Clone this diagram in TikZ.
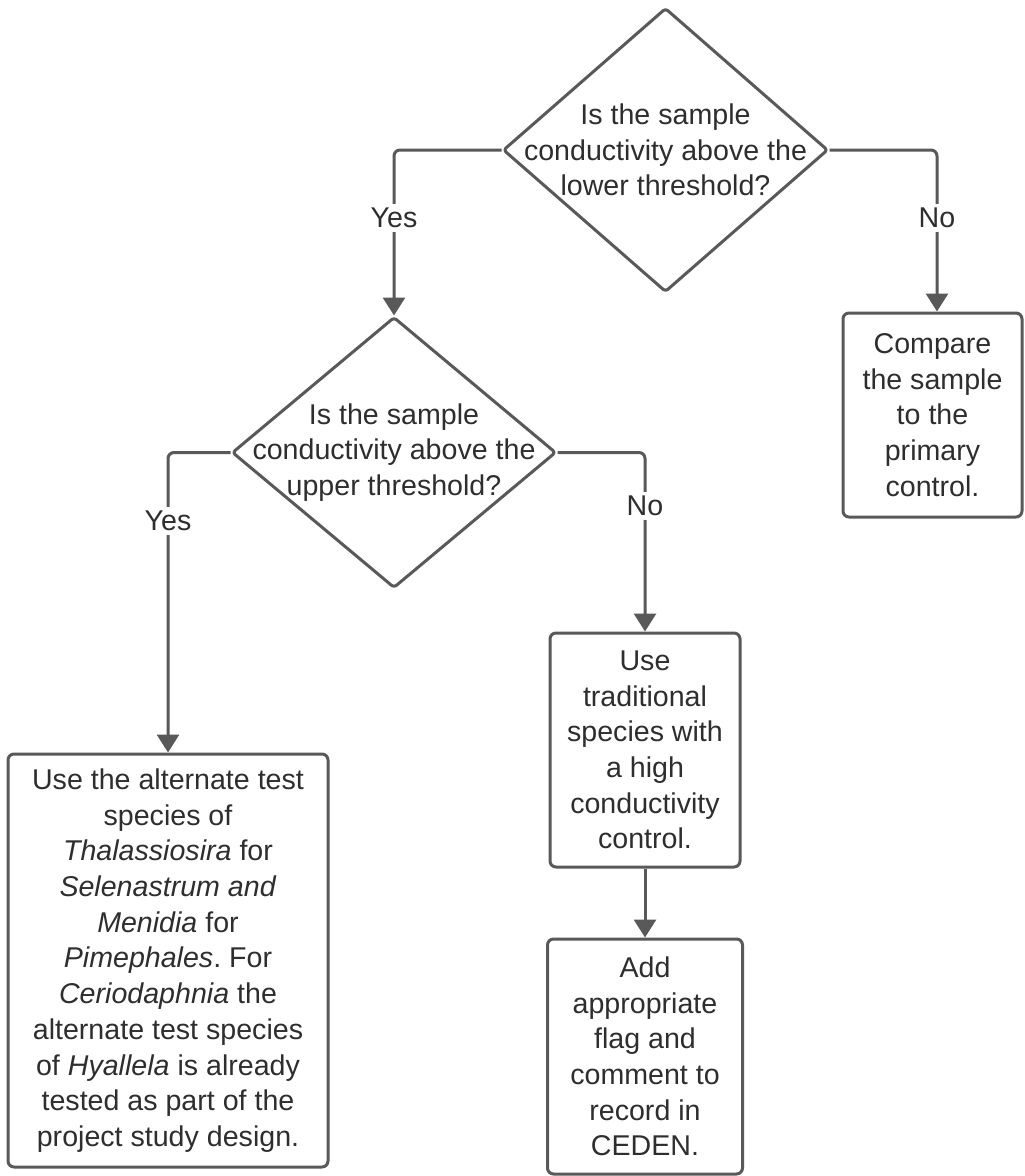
\documentclass[tikz,border=0pt]{standalone}
\usepackage{fontspec}
\setmainfont{Liberation Sans}
\usetikzlibrary{arrows.meta,shapes.geometric}
\definecolor{linec}{HTML}{595959}
\definecolor{textc}{HTML}{2E2E2E}
\frenchspacing
\begin{document}
\begin{tikzpicture}[x=1pt,y=-1pt,
  every node/.style={font=\fontsize{28.6pt}{35.7pt}\selectfont\frenchspacing, text=textc},
  dia/.style={shape=diamond, draw=linec, line width=3pt, inner sep=0pt, rounded corners=3pt, line join=round},
  boxn/.style={draw=linec, line width=3pt, rounded corners=6pt, inner sep=0pt, fill=white},
  txt/.style={align=center, inner sep=0pt},
  lbl/.style={fill=white, inner sep=4pt},
  conn/.style={draw=linec, line width=3pt, rounded corners=6pt, -{Triangle[width=22pt,length=18pt]}}
]
\useasboundingbox[fill=white] (0,0) rectangle (1025,1176);

% diamonds
\node[dia, minimum width=325pt, minimum height=284pt] (d1) at (665.5,150) {};
\node[txt] (d1t) at (d1) {Is the sample\\conductivity above the\\lower threshold?};
\node[dia, minimum width=324pt, minimum height=271pt] (d2) at (394,452.5) {};
\node[txt] (d2t) at (d2) {Is the sample\\conductivity above the\\upper threshold?};

% boxes
\node[boxn, minimum width=179pt, minimum height=204pt] (cmp) at (932.5,415) {};
\node[txt] (cmpt) at (cmp) {Compare\\the sample\\to the\\primary\\control.};

\node[boxn, minimum width=320pt, minimum height=413pt] (alt) at (168,960.5) {};
\node[txt] (altt) at (alt) {Use the alternate test\\species of\\\textit{Thalassiosira} for\\\textit{Selenastrum and}\\\textit{Menidia} for\\\textit{Pimephales}. For\\\textit{Ceriodaphnia} the\\alternate test species\\of \textit{Hyallela} is already\\tested as part of the\\project study design.};

\node[boxn, minimum width=190pt, minimum height=234pt] (trad) at (645,750) {};
\node[txt] (tradt) at (trad) {Use\\traditional\\species with\\a high\\conductivity\\control.};

\node[boxn, minimum width=195pt, minimum height=235pt] (add) at (645,1056.5) {};
\node[txt] (addt) at (add) {Add\\appropriate\\flag and\\comment to\\record in\\CEDEN.};

% corner coordinates
\coordinate (c1) at (394,150);
\coordinate (c2) at (937,150);
\coordinate (c3) at (168,452.5);
\coordinate (c4) at (645,452.5);

% connectors
\draw[conn] (d1.west) -- (c1) -- (d2.north);
\draw[conn] (d1.east) -- (c2) -- (c2 |- cmp.north);
\draw[conn] (d2.west) -- (c3) -- (alt.north);
\draw[conn] (d2.east) -- (c4) -- (trad.north);
\draw[conn] (trad.south) -- (add.north);

% labels
\node[lbl] (y1) at (394,218) {Yes};
\node[lbl] (n1) at (937,218) {No};
\node[lbl] (y2) at (168,521) {Yes};
\node[lbl] (n2) at (645,506) {No};
\end{tikzpicture}
\end{document}
